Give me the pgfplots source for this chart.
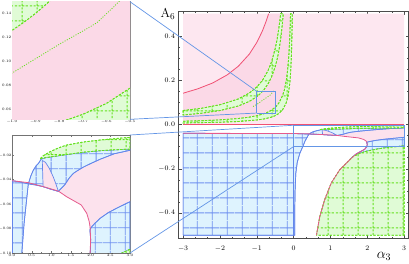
\documentclass[border=0pt]{standalone}
\usepackage{fontspec}
\usepackage{pgfplots}
\pgfplotsset{compat=1.18}
\usepackage{pgfplotstable}
\usetikzlibrary{patterns.meta}

\definecolor{pinkL}{RGB}{253,231,240}
\definecolor{pinkD}{RGB}{251,217,231}
\definecolor{pinkB}{RGB}{252,226,237}
\definecolor{bluefill}{RGB}{222,243,254}
\definecolor{meshblue}{RGB}{112,146,240}
\definecolor{blueedge}{RGB}{100,135,235}
\definecolor{greenfill}{RGB}{224,251,214}
\definecolor{greenline}{RGB}{100,225,30}
\definecolor{redline}{RGB}{240,80,115}
\definecolor{magline}{RGB}{230,90,140}
\definecolor{linkblue}{RGB}{100,150,230}

\tikzdeclarepattern{
  name=bluemesh, type=uncolored,
  bottom left={(0bp,0bp)}, top right={(14.6bp,14.6bp)},
  tile size={(14.6bp,14.6bp)},
  code={\draw[line width=0.8bp] (0bp,7.3bp) -- (14.6bp,7.3bp) (7.3bp,0bp) -- (7.3bp,14.6bp);}
}
\tikzdeclarepattern{
  name=greenmesh, type=uncolored,
  bottom left={(0bp,0bp)}, top right={(14.6bp,14.6bp)},
  tile size={(14.6bp,14.6bp)},
  code={\draw[line width=0.9bp, dash pattern=on 2.2bp off 1.45bp] (0bp,7.3bp) -- (14.6bp,7.3bp) (7.3bp,0bp) -- (7.3bp,14.6bp);}
}

% ---------------- data: top half ----------------
\pgfplotstableread{
x y
-3 0
3 0
3 0.5
-3 0.5
-3 0
}\Ptop
\pgfplotstableread{
x y
-3 0
-3 0.141
-2.6 0.161
-2.2 0.187
-1.8 0.224
-1.5 0.263
-1.2 0.318
-1.0 0.370
-0.85 0.421
-0.75 0.464
-0.679 0.5
-0.035 0.5
-0.04 0.444
-0.05 0.364
-0.06 0.308
-0.08 0.235
-0.1 0.19
-0.15 0.129
-0.2 0.0976
-0.3 0.0656
-0.4 0.0494
-0.5 0.0396
-0.6 0.0331
-0.8 0.0248
-1 0.0201
-1.5 0.0133
-2 0.01
-2.5 0.008
-3 0.0067
-3 0
}\Pdark
\pgfplotstableread{
x y
-3 0.063
-2.5 0.073
-2 0.089
-1.5 0.115
-1.2 0.142
-1 0.169
-0.85 0.198
-0.7 0.241
-0.6 0.282
-0.5 0.342
-0.45 0.382
-0.4 0.435
-0.36 0.488
-0.352 0.5
-0.281 0.5
-0.3 0.4618
-0.35 0.3866
-0.4 0.3326
-0.45 0.2919
-0.5 0.2601
-0.6 0.2138
-0.7 0.1816
-0.8 0.158
-0.85 0.1483
-0.9 0.1398
-0.95 0.1323
-1 0.1255
-1.2 0.1043
-1.5 0.0834
-2 0.0628
-2.5 0.0507
-3 0.0426
-3 0.063
}\Pbandone
\pgfplotstableread{
x y
-3 0.0144
-2.5 0.0169
-2 0.0206
-1.5 0.0268
-1.2 0.0331
-1 0.0394
-0.8 0.0488
-0.7 0.0556
-0.6 0.0647
-0.5 0.0775
-0.45 0.086
-0.4 0.097
-0.3 0.130
-0.25 0.156
-0.2 0.197
-0.16 0.249
-0.13 0.310
-0.11 0.372
-0.095 0.437
-0.0845 0.5
-0.035 0.5
-0.04 0.444
-0.05 0.364
-0.06 0.308
-0.08 0.235
-0.1 0.19
-0.15 0.129
-0.2 0.0976
-0.3 0.0656
-0.4 0.0494
-0.5 0.0396
-0.6 0.0331
-0.8 0.0248
-1 0.0201
-1.5 0.0133
-2 0.01
-2.5 0.008
-3 0.0067
-3 0.0144
}\Pbandtwo
\pgfplotstableread{
x y
-1.1 0.081
-1 0.090
-0.9 0.102
-0.8 0.114
-0.7 0.125
-0.64 0.132
-0.57 0.145
-0.53 0.153
}\Pthin
\pgfplotstableread{
x y
-3 0.141
-2.6 0.161
-2.2 0.187
-1.8 0.224
-1.5 0.263
-1.2 0.318
-1.0 0.370
-0.85 0.421
-0.75 0.464
-0.679 0.5
}\Pred
% ---------------- data: bottom half ----------------
\pgfplotstableread{
x y
-3 -0.5
-3 -0.04
0 -0.041
0.2 -0.042
0.415 -0.0436
0.36 -0.06
0.31 -0.075
0.25 -0.10
0.17 -0.13
0.1 -0.17
0.06 -0.22
0.04 -0.3
0.03 -0.4
0.03 -0.5
-3 -0.5
}\Pbigblue
\pgfplotstableread{
x y
1.18 -0.0497
1.39 -0.0541
1.76 -0.0608
1.90 -0.0676
1.96 -0.075
1.98 -0.081
2.03 -0.0785
2.1 -0.076
2.24 -0.0717
2.45 -0.067
2.66 -0.0635
3 -0.0581
3 -0.0162
2.6 -0.019
2.24 -0.0235
2.0 -0.027
1.81 -0.030
1.68 -0.0325
1.56 -0.035
1.45 -0.039
1.35 -0.044
1.26 -0.047
1.18 -0.0497
}\Pbigpink
\pgfplotstableread{
x y
0.415 -0.0436
0.48 -0.037
0.54 -0.0325
0.61 -0.029
0.67 -0.027
0.74 -0.0235
0.85 -0.0222
1.0 -0.0215
1.31 -0.020
1.8 -0.0178
2.24 -0.0165
2.6 -0.0158
3 -0.0152
3 -0.0162
2.6 -0.019
2.24 -0.0235
2.0 -0.027
1.81 -0.030
1.68 -0.0325
1.56 -0.035
1.45 -0.039
1.35 -0.044
1.26 -0.047
1.18 -0.0497
0.97 -0.0478
0.8 -0.0459
0.6 -0.0445
0.415 -0.0436
}\Pmidblue
\pgfplotstableread{
x y
0.77 -0.0245
0.78 -0.035
0.79 -0.0458
1.0 -0.048
1.18 -0.0497
1.12 -0.044
1.05 -0.038
0.95 -0.031
0.85 -0.026
0.77 -0.0245
}\Plens
\pgfplotstableread{
x y
0.72 -0.023
0.8 -0.0205
0.97 -0.0173
1.2 -0.014
1.39 -0.0119
1.8 -0.0095
2.24 -0.0078
2.6 -0.0067
3 -0.0056
3 -0.0152
2.6 -0.0158
2.24 -0.0165
1.8 -0.0178
1.31 -0.020
1.0 -0.0215
0.85 -0.0222
0.72 -0.023
}\Pgreentop
\pgfplotstableread{
x y
1.98 -0.081
2.03 -0.0785
2.1 -0.076
2.24 -0.0717
2.45 -0.067
2.66 -0.0635
3 -0.0581
3 -0.097
2.6 -0.103
2.3 -0.11
2.0 -0.12
1.8 -0.13
1.6 -0.147
1.70 -0.133
1.80 -0.124
1.93 -0.112
1.99 -0.100
2.0 -0.089
1.98 -0.081
}\Pbrblue
\pgfplotstableread{
x y
0.62 -0.5
0.71 -0.416
0.84 -0.341
1.02 -0.265
1.25 -0.205
1.52 -0.160
1.6 -0.147
1.8 -0.13
2.0 -0.12
2.3 -0.11
2.6 -0.103
3 -0.097
3 -0.5
0.62 -0.5
}\Pbrgreen
\pgfplotstableread{
x y
-3 -0.04
0 -0.041
0.415 -0.0426
0.8 -0.0459
1.18 -0.0495
1.39 -0.0541
1.76 -0.0608
1.90 -0.0676
1.96 -0.074
1.985 -0.0786
2.0 -0.0894
1.985 -0.1003
1.93 -0.112
1.80 -0.124
1.70 -0.133
1.52 -0.160
1.25 -0.205
1.02 -0.265
0.84 -0.341
0.71 -0.416
0.62 -0.5
}\Pmag

\newcommand{\regions}{%
  \addplot[draw=none, fill=pinkL] table {\Ptop};
  \addplot[draw=none, fill=pinkD] table {\Pdark};
  \addplot[fill=greenfill, draw=greenline, line width=0.8bp, dash pattern=on 2.2bp off 1.45bp,
           postaction={pattern=greenmesh, pattern color=greenline}] table {\Pbandone};
  \addplot[fill=greenfill, draw=greenline, line width=0.8bp, dash pattern=on 2.2bp off 1.45bp,
           postaction={pattern=greenmesh, pattern color=greenline}] table {\Pbandtwo};
  \addplot[greenline, line width=0.8bp, dash pattern=on 1bp off 1.5bp] table {\Pthin};
  \addplot[redline, line width=0.8bp] table {\Pred};
  \addplot[redline, line width=0.8bp] coordinates {(-3,0) (3,0)};
  % bottom half
  \addplot[fill=bluefill, draw=blueedge, line width=0.7bp,
           postaction={pattern=bluemesh, pattern color=meshblue}] table {\Pbigblue};
  \addplot[draw=none, fill=pinkB] table {\Pbigpink};
  \addplot[fill=bluefill, draw=blueedge, line width=0.7bp,
           postaction={pattern=bluemesh, pattern color=meshblue}] table {\Pmidblue};
  \addplot[fill=pinkB, draw=blueedge, line width=0.7bp] table {\Plens};
  \addplot[fill=greenfill, draw=greenline, line width=0.8bp, dash pattern=on 2.2bp off 1.45bp,
           postaction={pattern=greenmesh, pattern color=greenline}] table {\Pgreentop};
  \addplot[fill=bluefill, draw=blueedge, line width=0.7bp,
           postaction={pattern=bluemesh, pattern color=meshblue}] table {\Pbrblue};
  \addplot[fill=greenfill, draw=greenline, line width=0.8bp, dash pattern=on 2.2bp off 1.45bp,
           postaction={pattern=greenmesh, pattern color=greenline}] table {\Pbrgreen};
  \addplot[blueedge, line width=0.7bp] coordinates {(0,-0.041) (0,-0.5)};
  \addplot[magline, line width=0.8bp] table {\Pmag};
}

\pgfplotsset{
  inset/.style={
    scale only axis, anchor=south west, width=118bp,
    axis line style={draw=black!55, line width=0.4bp},
    tick align=inside, major tick length=1.8bp, minor tick length=1bp,
    tick style={black!55, line width=0.3bp},
    tick label style={font=\fontsize{3.7}{4}\selectfont, inner sep=0.6bp},
    minor x tick num=1, minor y tick num=1,
  }
}

\begin{document}
\begin{tikzpicture}
\useasboundingbox (0,0) rectangle (409bp,264bp);

% main plot
\begin{axis}[
  at={(178.5bp,25.5bp)}, anchor=south west,
  scale only axis, width=230.2bp, height=227bp,
  xmin=-3.125, xmax=3.125, ymin=-0.515, ymax=0.51,
  axis line style={draw=black!70, line width=0.5bp},
  tick align=inside,
  xtick={-3,-2,-1,0,1,2,3}, ytick={-0.4,-0.2,0,0.2,0.4},
  minor x tick num=2, minor y tick num=3,
  major tick length=3bp, minor tick length=1.8bp,
  tick style={black!70, line width=0.4bp},
  xticklabel style={font=\fontsize{7.5}{8}\selectfont, yshift=-3.5bp},
  yticklabel style={font=\fontsize{7.5}{8}\selectfont, /pgf/number format/.cd, fixed, fixed zerofill, precision=1},
]
\regions
\addplot[linkblue, line width=0.7bp] coordinates {(-1,0.0515) (-0.5,0.0515) (-0.5,0.1495) (-1,0.1495) (-1,0.0515)};
\addplot[linkblue, line width=0.7bp] coordinates {(0,-0.1) (3,-0.1) (3,-0.0037) (0,-0.0037) (0,-0.1)};
\coordinate (b1tl) at (axis cs:-1,0.1495);
\coordinate (b1bl) at (axis cs:-1,0.0515);
\coordinate (b2tl) at (axis cs:0,-0.0037);
\coordinate (b2bl) at (axis cs:0,-0.1);
\end{axis}

% inset 1
\begin{axis}[inset, at={(12bp,144.7bp)}, height=117.6bp,
  xmin=-1, xmax=-0.5, ymin=0.0515, ymax=0.1495,
  xtick={-1,-0.9,-0.8,-0.7,-0.6,-0.5}, ytick={0.06,0.08,0.10,0.12,0.14},
  xticklabels={−1.0,−0.9,−0.8,−0.7,−0.6,−0.5},
  yticklabels={0.06,0.08,0.10,0.12,0.14},
]
\regions
\coordinate (i1tr) at (rel axis cs:1,1);
\coordinate (i1br) at (rel axis cs:1,0);
\end{axis}

% inset 2
\begin{axis}[inset, at={(12bp,11bp)}, height=118bp,
  xmin=0, xmax=3, ymin=-0.1, ymax=-0.0037,
  xtick={0,0.5,1,1.5,2,2.5,3}, ytick={-0.1,-0.08,-0.06,-0.04,-0.02},
  xticklabels={0.0,0.5,1.0,1.5,2.0,2.5,3.0},
  yticklabels={−0.10,−0.08,−0.06,−0.04,−0.02},
  xticklabel style={yshift=-0.5bp},
  yticklabel style={font=\fontsize{3.5}{4}\selectfont, inner sep=0.5bp},
]
\regions
\coordinate (i2tr) at (rel axis cs:1,1);
\coordinate (i2br) at (rel axis cs:1,0);
\end{axis}

\draw[linkblue, line width=0.7bp] (i1tr) -- (b1tl) (i1br) -- (b1bl) (i2tr) -- (b2tl) (i2br) -- (b2bl);

\node[font=\fontsize{13}{13}\selectfont, inner sep=0pt] at (168bp,250bp) {A$_6$};
\node[font=\fontsize{14}{14}\selectfont, inner sep=0pt] at (384bp,8bp) {$\alpha_3$};
\end{tikzpicture}
\end{document}
